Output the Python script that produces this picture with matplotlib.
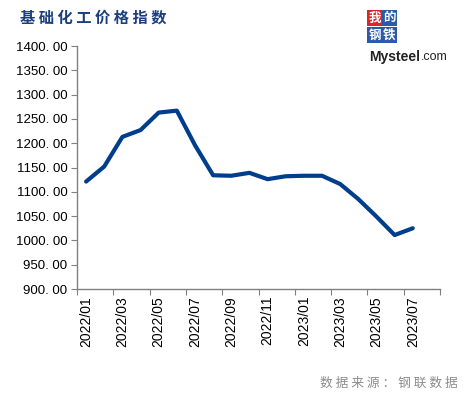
import matplotlib
matplotlib.use("Agg")
import matplotlib.pyplot as plt
from matplotlib.patches import Rectangle

months = ["2022/01","2022/02","2022/03","2022/04","2022/05","2022/06","2022/07","2022/08",
          "2022/09","2022/10","2022/11","2022/12","2023/01","2023/02","2023/03","2023/04",
          "2023/05","2023/06","2023/07","2023/08"]
values = [1121, 1152, 1213, 1227, 1263, 1267, 1196, 1134, 1133, 1139, 1126, 1132,
          1133, 1133, 1116, 1085, 1049, 1011, 1025]
yticks = [900, 950, 1000, 1050, 1100, 1150, 1200, 1250, 1300, 1350, 1400]
title = "基础化工价格指数"
source = "数据来源：钢联数据"

W, H = 463, 397
fig = plt.figure(figsize=(W/100, H/100), dpi=100)
ax = fig.add_axes([77/W, 1-289/H, (440-77)/W, (289-46)/H])

x = list(range(len(values)))
ax.plot(x, values, color="#003D8C", lw=3.0, solid_joinstyle="round", solid_capstyle="round")

ax.set_xlim(-0.5, len(months)-0.5)
ax.set_ylim(900, 1400)
ax.set_yticks(yticks)
ax.set_yticklabels([f"{v}. 00" for v in yticks], fontsize=9.5, family="Liberation Sans")
ax.set_xticks([i - 0.5 for i in range(0, len(months)+1, 2)])
ax.set_xticklabels([])
ax.set_xticks(list(range(0, len(months), 2)), minor=True)
ax.set_xticklabels([months[i] for i in range(0, len(months), 2)], minor=True,
                   rotation=90, fontsize=10, family="Liberation Sans")
ax.tick_params(axis="x", which="minor", length=0, pad=5)
ax.tick_params(axis="x", which="major", length=4, color="#808080")
ax.tick_params(axis="y", length=4, color="#808080", pad=3)
for s in ["top", "right"]:
    ax.spines[s].set_visible(False)
for s in ["left", "bottom"]:
    ax.spines[s].set_color("#808080")
    ax.spines[s].set_linewidth(1.0)

fig.text(20/W, 1-18/H, " ".join(title), fontsize=11, fontweight="bold",
         color="#1A3F7E", family=["Noto Sans CJK SC"], va="center", ha="left")
src = " ".join(source[:5]) + " " + " ".join(source[5:])
fig.text(458/W, 1-383/H, src, fontsize=9.2, color="#8C8C8C",
         family=["Noto Sans CJK SC"], va="center", ha="right")

# logo
chars = [("我", "#D9262B", 367, 10), ("的", "#2B5BA8", 382, 10),
         ("钢", "#2B5BA8", 367, 27), ("铁", "#2B5BA8", 382, 27)]
for ch, col, px, py in chars:
    fig.patches.append(Rectangle((px/W, 1-(py+16)/H), 15/W, 16/H, transform=fig.transFigure,
                                 facecolor=col, edgecolor="none"))
    fig.text((px+7.5)/W, 1-(py+8)/H, ch, fontsize=9, color="white", fontweight="bold",
             family=["Noto Sans CJK SC"], ha="center", va="center")
t1 = fig.text(369/W, 1-57/H, "Mysteel", fontsize=10, color="#222222", fontweight="bold",
              family="Liberation Sans", ha="left", va="center")
fig.canvas.draw()
bb = t1.get_window_extent()
fig.text((bb.x1 + 1)/W, 1-57/H, ".com", fontsize=9, color="#222222",
         family="Liberation Sans", ha="left", va="center")

fig.savefig("out.png", dpi=100)
